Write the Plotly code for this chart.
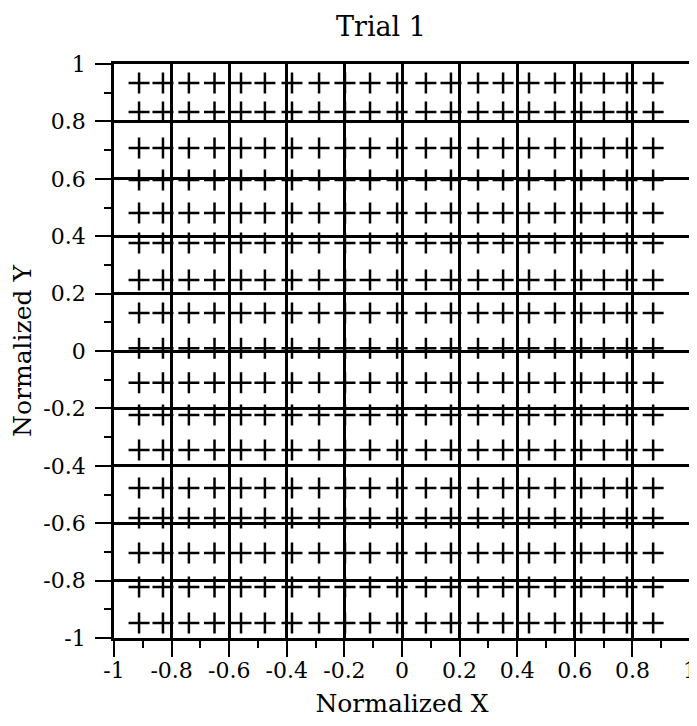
import plotly.graph_objects as go

x_cols = [-0.913, -0.830, -0.740, -0.651, -0.559, -0.476, -0.382, -0.288, -0.198, -0.111,
          -0.017, 0.083, 0.170, 0.264, 0.351, 0.441, 0.531, 0.622, 0.701, 0.781, 0.872]
y_rows = [0.934, 0.833, 0.707, 0.596, 0.481, 0.376, 0.247, 0.132, 0.010, -0.111,
          -0.223, -0.345, -0.477, -0.582, -0.704, -0.822, -0.948]

tick_vals = [-1, -0.8, -0.6, -0.4, -0.2, 0, 0.2, 0.4, 0.6, 0.8, 1]
tick_text = ["-1", "-0.8", "-0.6", "-0.4", "-0.2", "0", "0.2", "0.4", "0.6", "0.8", "1"]

xs, ys = [], []
for yv in y_rows:
    for xv in x_cols:
        xs.append(xv)
        ys.append(yv)

FONT = "DejaVu Serif"
# the page body has an 8px default margin, so the figure is drawn 8px smaller
W, H, OFF = 697 - 8, 726 - 8, 8

fig = go.Figure()
fig.add_trace(go.Scatter(
    x=xs, y=ys, mode="markers",
    marker=dict(symbol="cross-thin", size=15, color="black",
                line=dict(color="black", width=2.5)),
    showlegend=False, hoverinfo="skip", cliponaxis=False,
))

axis_common = dict(
    range=[-1, 1],
    tickvals=tick_vals, ticktext=tick_text,
    showgrid=True, gridcolor="black", gridwidth=2.9,
    zeroline=False, automargin=False,
    showline=True, linecolor="black", linewidth=2.9, mirror=True,
    ticks="outside", ticklen=16, tickwidth=2, tickcolor="black",
    tickfont=dict(family=FONT, size=22, color="black"),
    minor=dict(dtick=0.1, tick0=0, ticks="outside", ticklen=7, tickwidth=2,
               tickcolor="black", showgrid=False),
)

fig.update_xaxes(**axis_common, ticklabelstandoff=-5,
                 title=dict(text="Normalized X", font=dict(family=FONT, size=25, color="black"),
                            standoff=13))
fig.update_yaxes(**axis_common, ticklabelstandoff=5,
                 title=dict(text="Normalized Y", font=dict(family=FONT, size=25, color="black"),
                            standoff=6))

fig.update_layout(
    width=W, height=H,
    margin=dict(l=114 - OFF, r=7, t=64 - OFF, b=88, autoexpand=False),
    paper_bgcolor="white", plot_bgcolor="white",
    title=dict(text="Trial 1", font=dict(family=FONT, size=27, color="black"),
               x=(381 - OFF) / W, xanchor="center", xref="container",
               y=1 - (27 - OFF) / H, yanchor="middle", yref="container"),
)

fig.write_html("out.html")
